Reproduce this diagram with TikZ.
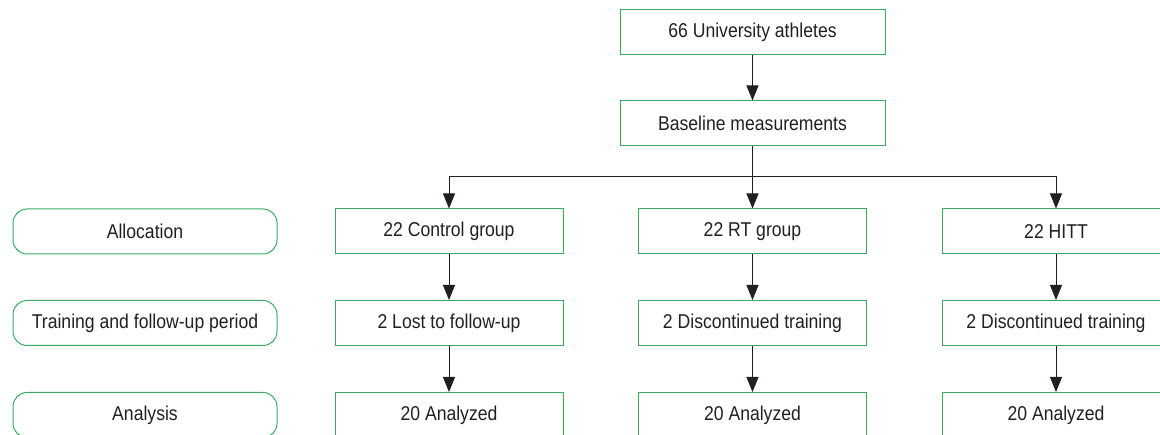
\documentclass[tikz,border=0pt]{standalone}
\usepackage{fontspec}
\setmainfont[FakeStretch=0.88]{Liberation Sans}
\usetikzlibrary{arrows.meta}

\definecolor{boxgreen}{RGB}{58,170,100}
\definecolor{inkgray}{RGB}{35,31,32}

\tikzset{
	flowbox/.style={draw=boxgreen, line width=1pt, minimum width=228pt, minimum height=45pt, inner sep=0pt, text=inkgray},
	stagebox/.style={flowbox, rounded corners=14pt, minimum width=264pt},
	flowarrow/.style={-{Triangle[length=15pt,width=12pt]}, line width=0.9pt, draw=inkgray}
}

\begin{document}
\begin{tikzpicture}[x=1pt, y=-1pt, font=\fontsize{20}{24}\selectfont]
	\useasboundingbox (0,0) rectangle (1160,435);
	
	\node[flowbox, minimum width=265pt] (athletes) at (752.5,32.5) {66 University athletes};
	\node[flowbox, minimum width=265pt] (baseline) at (752.5,123.5) {Baseline measurements};
	
	\node[stagebox] (allocation) at (145,231.5) {Allocation};
	\node[stagebox] (followup) at (145,323) {Training and follow-up period};
	\node[stagebox] (analysis) at (145,415) {Analysis};
	
	\node[flowbox] (control) at (449,231.5) {22 Control group};
	\node[flowbox] (rt) at (752.5,231.5) {22 RT group};
	\node[flowbox] (hitt) at (1056,231.5) {22 HITT};
	
	\node[flowbox] (controllost) at (449,323) {2 Lost to follow-up};
	\node[flowbox] (rtlost) at (752.5,323) {2 Discontinued training};
	\node[flowbox] (hittlost) at (1056,323) {2 Discontinued training};
	
	\node[flowbox] (controlend) at (449,415) {20 Analyzed};
	\node[flowbox] (rtend) at (752.5,415) {20 Analyzed};
	\node[flowbox] (hittend) at (1056,415) {20 Analyzed};
	
	\coordinate (split) at (752.5,176);
	
	\draw[flowarrow] (athletes) -- (baseline);
	\draw[flowarrow] (baseline) -- (rt);
	\draw[line width=0.9pt, draw=inkgray] (split -| control) -- (split -| hitt);
	\draw[flowarrow] (split -| control) -- (control);
	\draw[flowarrow] (split -| hitt) -- (hitt);
	
	\draw[flowarrow] (control) -- (controllost);
	\draw[flowarrow] (rt) -- (rtlost);
	\draw[flowarrow] (hitt) -- (hittlost);
	\draw[flowarrow] (controllost) -- (controlend);
	\draw[flowarrow] (rtlost) -- (rtend);
	\draw[flowarrow] (hittlost) -- (hittend);
\end{tikzpicture}
\end{document}
